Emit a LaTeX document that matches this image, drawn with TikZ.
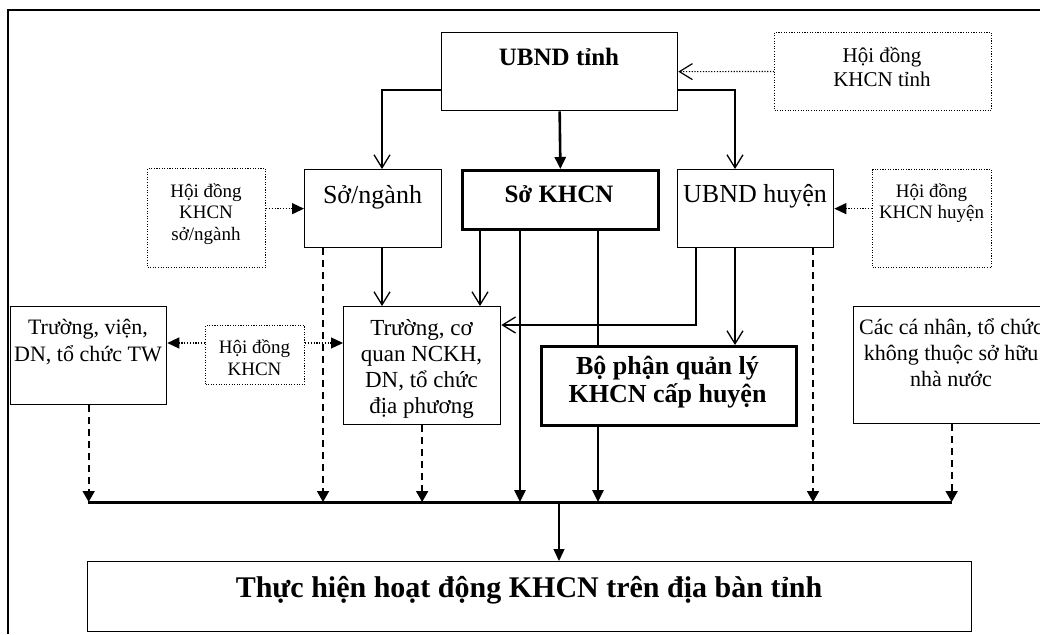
\documentclass[tikz,border=0pt]{standalone}
\usepackage{fontspec}
\setmainfont{Liberation Serif}
\usetikzlibrary{arrows.meta}
\newcommand\mytb[1]{\begin{tabular}[t]{@{}c@{}}#1\end{tabular}}
\newcommand\fs[2]{\fontsize{#1}{#2}\selectfont}
\begin{document}
\begin{tikzpicture}[x=1pt,y=-1pt,
  ln/.style={line width=1.3pt},
  thk/.style={line width=2.6pt},
  busline/.style={line width=3pt},
  dashln/.style={line width=1.8pt,dash pattern=on 7pt off 5pt},
  dotln/.style={line width=1.2pt,dash pattern=on 1.2pt off 1.6pt},
  oarr/.style={-{Straight Barb[length=13pt,width=16pt]}},
  farr/.style={-{Triangle[length=12pt,width=11pt]}},
  sarr/.style={-{Triangle[length=11pt,width=12pt]}},
  bx/.style={draw,line width=1.3pt,inner sep=0pt,anchor=north west},
  bxthick/.style={draw,line width=2.8pt,inner sep=0pt,anchor=north west},
  bxdot/.style={draw,line width=1.1pt,dash pattern=on 1.1pt off 1.5pt,inner sep=0pt,anchor=north west},
  txt/.style={inner sep=0pt,anchor=base,align=center}
]
\useasboundingbox (0,0) rectangle (1040,634);
% outer frame
\draw[ln] (8,634) -- (8,10) -- (1040,10);

% boxes
\node[bx,minimum width=236pt,minimum height=78pt] (ubt) at (441,32) {};
\node[bxdot,minimum width=217pt,minimum height=78pt] (hdt) at (774,32) {};
\node[bx,minimum width=137pt,minimum height=78pt] (sng) at (304,169) {};
\node[bxthick,minimum width=196pt,minimum height=59pt] (skh) at (461,169) {};
\node[bx,minimum width=156pt,minimum height=78pt] (ubh) at (677,169) {};
\node[bxdot,minimum width=118pt,minimum height=99pt] (hds) at (147,168) {};
\node[bxdot,minimum width=119pt,minimum height=98pt] (hdh) at (872,169) {};
\node[bx,minimum width=156pt,minimum height=98pt] (trv) at (10,306) {};
\node[bxdot,minimum width=99pt,minimum height=59pt] (hdk) at (205,325) {};
\node[bx,minimum width=157pt,minimum height=118pt] (tcq) at (343,306) {};
\node[bxthick,minimum width=255pt,minimum height=79pt] (bpq) at (540,345) {};
\node[bx,minimum width=196pt,minimum height=117pt] (ccn) at (853,306) {};
\node[bx,minimum width=884pt,minimum height=70pt] (thh) at (87,561) {};

% texts
\node[txt,font=\fs{25}{28}\bfseries] (ubtT) at (559,65) {UBND tỉnh};
\node[txt,font=\fs{21}{24}] (hdtT) at (882,63) {\mytb{Hội đồng\\KHCN tỉnh}};
\node[txt,font=\fs{26}{28}] (sngT) at (372.5,203) {Sở/ngành};
\node[txt,font=\fs{25}{28}\bfseries] (skhT) at (559,202) {Sở KHCN};
\node[txt,font=\fs{26}{28}] (ubhT) at (755,202) {UBND huyện};
\node[txt,font=\fs{19}{21.5}] (hdsT) at (206,197) {\mytb{Hội đồng\\KHCN\\sở/ngành}};
\node[txt,font=\fs{19}{21}] (hdhT) at (931.5,197) {\mytb{Hội đồng\\KHCN huyện}};
\node[txt,font=\fs{22}{27}] (trvT) at (88,334) {\mytb{Trường, viện,\\DN, tổ chức TW}};
\node[txt,font=\fs{19}{22}] (hdkT) at (254.5,353) {\mytb{Hội đồng\\KHCN}};
\node[txt,font=\fs{23}{26}] (tcqT) at (421.5,335) {\mytb{Trường, cơ\\quan NCKH,\\DN, tổ chức\\địa phương}};
\node[txt,font=\fs{26}{28}\bfseries] (bpqT) at (667.5,374) {\mytb{Bộ phận quản lý\\KHCN cấp huyện}};
\node[txt,font=\fs{22}{26}] (ccnT) at (951,334) {\mytb{Các cá nhân, tổ chức\\không thuộc sở hữu\\nhà nước}};
\node[txt,font=\fs{30}{32}\bfseries] (thhT) at (529,597) {Thực hiện hoạt động KHCN trên địa bàn tỉnh};

% helper coordinates
\coordinate (c1) at (382,90);
\coordinate (c2) at (735,90);
\coordinate (c3) at (696,325);
\coordinate (xa) at (480,0);
\coordinate (xb) at (323,0);
\coordinate (xs1) at (520,0);
\coordinate (xs2) at (598,0);
\coordinate (xu) at (813,0);
\coordinate (xd) at (0,343);
\coordinate (busL) at (88,502);
\coordinate (busR) at (952,502);
\coordinate (xc) at (559,502);

% UBND tinh connections
\draw[ln,oarr] (ubt.west |- c1) -- (c1) -- (c1 |- sng.north);
\draw[ln,oarr] (ubt.east |- c2) -- (c2) -- (c2 |- ubh.north);
\draw[thk,farr] (ubt.south) -- (skh.north);
\draw[dotln,oarr] (hdt.west) -- (ubt.east);

% councils
\draw[dotln,farr] (hds.east |- sng.west) -- (sng.west);
\draw[dotln,farr] (hdh.west |- ubh.east) -- (ubh.east);
\draw[dotln,farr] (hdk.west |- xd) -- (trv.east |- xd);
\draw[dotln,farr] (hdk.east |- xd) -- (tcq.west |- xd);

% to Truong co quan
\draw[ln,oarr] (c1 |- sng.south) -- (c1 |- tcq.north);
\draw[ln,oarr] (xa |- skh.south) -- (xa |- tcq.north);
\draw[ln,oarr] (c3 |- ubh.south) -- (c3) -- (c3 -| tcq.east);
\draw[ln,oarr] (c2 |- ubh.south) -- (c2 |- bpq.north);

% So KHCN thick lines
\draw[thk,farr] (xs1 |- skh.south) -- (xs1 |- busL);
\draw[thk] (xs2 |- skh.south) -- (xs2 |- bpq.north);
\draw[thk,farr] (xs2 |- bpq.south) -- (xs2 |- busL);

% dashed to bus
\draw[dashln,sarr] (trv.south) -- (trv.south |- busL);
\draw[dashln,sarr] (xb |- sng.south) -- (xb |- busL);
\draw[dashln,sarr] (tcq.south) -- (tcq.south |- busL);
\draw[dashln,sarr] (xu |- ubh.south) -- (xu |- busL);
\draw[dashln,sarr] (ccn.south) -- (ccn.south |- busL);

% bus and final
\draw[busline] (busL) -- (busR);
\draw[ln,farr] (xc) -- (xc |- thh.north);
\end{tikzpicture}
\end{document}
